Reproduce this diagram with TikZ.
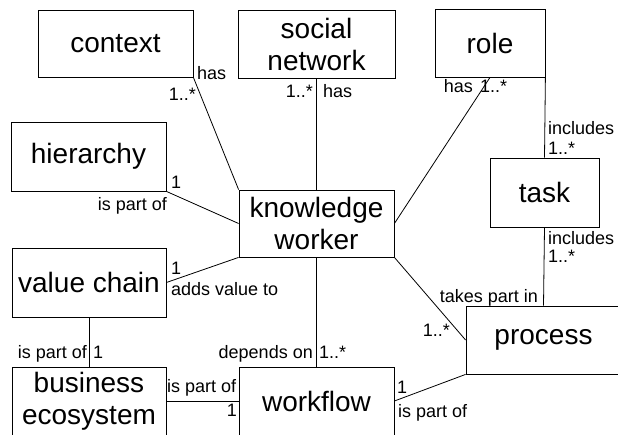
\documentclass[tikz,border=0pt]{standalone}
\usepackage{fontspec}
\setmainfont{Liberation Sans}
\begin{document}
\begin{tikzpicture}[x=1pt,y=-1pt,
  box/.style={draw, line width=0.8pt, inner sep=0pt, align=center, font=\fontsize{28}{32}\selectfont},
  lbl/.style={inner sep=0pt, font=\fontsize{18}{21}\selectfont},
  conn/.style={line width=0.8pt}]
\useasboundingbox (0,0) rectangle (618,434);
% boxes
\node[box, minimum width=155pt, minimum height=67pt] (context) at (115.5,43.5) {context};
\node[box, minimum width=157pt, minimum height=68pt] (social) at (316.5,44) {social\\network};
\node[box, minimum width=110pt, minimum height=68pt] (role) at (490,43) {role};
\node[box, minimum width=109pt, minimum height=69pt] (task) at (544.5,192.5) {task};
\node[box, minimum width=155pt, minimum height=69pt] (hierarchy) at (88.5,156.5) {hierarchy};
\node[box, minimum width=155pt, minimum height=67pt] (kw) at (316.5,223.5) {knowledge\\worker};
\node[box, minimum width=154pt, minimum height=69pt] (value) at (89,282.5) {value chain};
\node[box, minimum width=154pt, minimum height=68pt] (business) at (89,401) {business\\ecosystem};
\node[box, minimum width=155pt, minimum height=68pt] (workflow) at (316.5,401) {workflow};
\node[box, minimum width=155pt, minimum height=68pt] (process) at (543.5,340) {process};
% connectors
\draw[conn] (context.south east) -- (kw.north west);
\draw[conn] (social.south) -- (kw.north);
\draw[conn] (role.south) -- (kw.east);
\draw[conn] (role.south east) -- (task.north);
\draw[conn] (hierarchy.south east) -- (kw.west);
\draw[conn] (value.east) -- (kw.south west);
\draw[conn] (kw.south) -- (workflow.north);
\draw[conn] (kw.south east) -- (process.west);
\draw[conn] (task.south) -- (process.north);
\draw[conn] (value.south) -- (business.north);
\draw[conn] (business.east) -- (workflow.west);
\draw[conn] (workflow.east) -- (process.south west);
% labels
\node[lbl, anchor=base west] (l1) at (197,79) {has};
\node[lbl, anchor=base east] (l2) at (196,100) {1..*};
\node[lbl, anchor=base east] (l3) at (313,97) {1..*};
\node[lbl, anchor=base west] (l4) at (323,97) {has};
\node[lbl, anchor=base east] (l5) at (473,92) {has};
\node[lbl, anchor=base west] (l6) at (480,92) {1..*};
\node[lbl, anchor=base west] (l7) at (548,134) {includes};
\node[lbl, anchor=base west] (l8) at (548,154) {1..*};
\node[lbl, anchor=base west] (l9) at (171,188) {1};
\node[lbl, anchor=base east] (l10) at (167,210) {is part of};
\node[lbl, anchor=base west] (l11) at (171,274) {1};
\node[lbl, anchor=base west] (l12) at (171,295) {adds value to};
\node[lbl, anchor=base east] (l13) at (87,358) {is part of};
\node[lbl, anchor=base west] (l14) at (93,358) {1};
\node[lbl, anchor=base east] (l15) at (313,358) {depends on};
\node[lbl, anchor=base west] (l16) at (319,358) {1..*};
\node[lbl, anchor=base west] (l17) at (167,392) {is part of};
\node[lbl, anchor=base east] (l18) at (237,416) {1};
\node[lbl, anchor=base east] (l19) at (538,302) {takes part in};
\node[lbl, anchor=base east] (l20) at (450,336) {1..*};
\node[lbl, anchor=base west] (l21) at (548,244) {includes};
\node[lbl, anchor=base west] (l22) at (548,262) {1..*};
\node[lbl, anchor=base west] (l23) at (397,393) {1};
\node[lbl, anchor=base west] (l24) at (398,417) {is part of};
\end{tikzpicture}
\end{document}
